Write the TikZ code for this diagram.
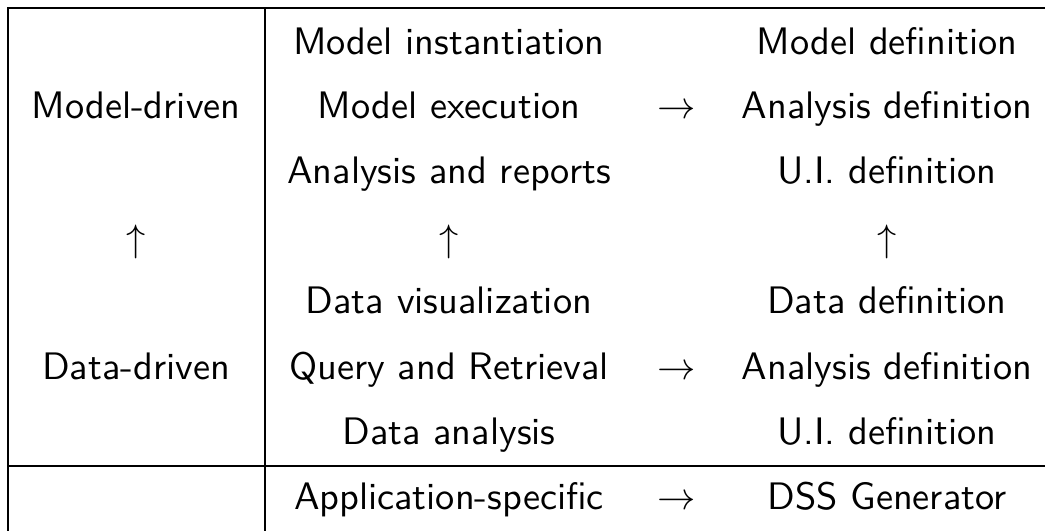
\documentclass[tikz,border=0pt]{standalone}
\usepackage{amsmath, amssymb}
\usepackage{tikz}
\tikzset{cell/.style={anchor=base, inner sep=0pt, font=\sffamily},
         rule/.style={line width=0.55pt}}

\begin{document}
\begin{tikzpicture}[x=0.261pt, y=-0.261pt]
                \useasboundingbox (0,0) rectangle (1045,531);

                % table rules
                \coordinate (tl) at (8, 8);
                \coordinate (tr) at (1045, 8);
                \coordinate (bl) at (8, 531);
                \coordinate (sepT) at (265, 8);
                \coordinate (sepB) at (265, 531);
                \coordinate (midL) at (8, 466);
                \coordinate (midR) at (1045, 466);
                \draw[rule] (bl) -- (tl) -- (tr);
                \draw[rule] (sepT) -- (sepB);
                \draw[rule] (midL) -- (midR);

                % first column
                \node[cell] (model) at (136, 119) {Model-driven};
                \node[cell] (upA) at (136, 252) {$\uparrow$};
                \node[cell] (data) at (136, 380) {Data-driven};

                % second column
                \node[cell] (inst) at (449, 55) {Model instantiation};
                \node[cell] (exec) at (449, 119) {Model execution};
                \node[cell] (rep) at (449, 184) {Analysis and reports};
                \node[cell] (upB) at (449, 252) {$\uparrow$};
                \node[cell] (vis) at (449, 314) {Data visualization};
                \node[cell] (query) at (449, 380) {Query and Retrieval};
                \node[cell] (dan) at (449, 445) {Data analysis};
                \node[cell] (app) at (449, 510) {Application-specific};

                % arrows column
                \node[cell] (toA) at (677, 119) {$\rightarrow$};
                \node[cell] (toB) at (677, 380) {$\rightarrow$};
                \node[cell] (toC) at (677, 510) {$\rightarrow$};

                % last column
                \node[cell] (mdef) at (887, 55) {Model definition};
                \node[cell] (adefA) at (887, 119) {Analysis definition};
                \node[cell] (uiA) at (887, 184) {U.I. definition};
                \node[cell] (upC) at (887, 252) {$\uparrow$};
                \node[cell] (ddef) at (887, 314) {Data definition};
                \node[cell] (adefB) at (887, 380) {Analysis definition};
                \node[cell] (uiB) at (887, 445) {U.I. definition};
                \node[cell] (gen) at (887, 510) {DSS Generator};
            \end{tikzpicture}
\end{document}
